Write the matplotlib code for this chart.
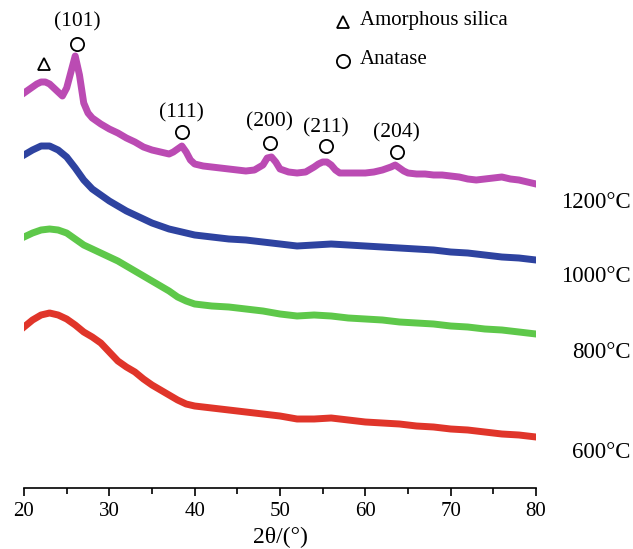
import matplotlib
matplotlib.use('Agg')
import matplotlib.pyplot as plt

plt.rcParams['font.family'] = ['Liberation Serif', 'DejaVu Serif']

# XRD 圖形的數據 (2θ, 相對強度, 已含偏移)
mag_x = [20, 20.5, 21, 21.5, 22, 22.5, 23, 23.5, 24, 24.5, 25, 25.5, 26, 26.5, 27, 27.5,
         28, 29, 30, 31, 32, 33, 34, 35, 36, 37, 37.5, 38, 38.5, 39, 39.5,
         40, 41, 42, 43, 44, 45, 46, 47, 48, 48.5, 49, 49.5, 50, 51, 52, 53, 54,
         54.5, 55, 55.5, 56, 56.5, 57, 58, 59, 60, 61, 62, 63, 63.5, 64, 64.5,
         65, 66, 67, 68, 69, 70, 71, 72, 73, 74, 75, 76, 77, 78, 79, 80]
mag_y = [395, 398, 401, 404, 406, 406, 404, 400, 396, 392, 400, 416, 432, 413, 385, 375,
         370, 364, 359, 355, 350, 346, 341, 338, 336, 334, 336, 339, 342, 336, 328,
         324, 322, 321, 320, 319, 318, 317, 318, 323, 330, 331, 326, 319, 316, 315, 316, 321,
         324, 326, 326, 323, 318, 315, 315, 315, 315, 316, 318, 321, 323, 320, 317,
         315, 314, 314, 313, 313, 312, 311, 309, 308, 309, 310, 311, 309, 308, 306, 304]

grid_x = [20, 21, 22, 23, 24, 25, 26, 27, 28, 29, 30, 31, 32, 33, 34, 35, 36, 37, 38, 39, 40,
          42, 44, 46, 48, 50, 52, 54, 56, 58, 60, 62, 64, 66, 68, 70, 72, 74, 76, 78, 80]
blue_y = [333, 338, 342, 342, 338, 331, 320, 308, 299, 293, 287, 282, 277, 273, 269, 265, 262, 259, 257, 255, 253,
          251, 249, 248, 246, 244, 242, 243, 244, 243, 242, 241, 240, 239, 238, 236, 235, 233, 231, 230, 228]
green_y = [251, 255, 258, 259, 258, 255, 249, 243, 239, 235, 231, 227, 222, 217, 212, 207, 202, 197, 191, 187, 184,
           182, 181, 179, 177, 174, 172, 173, 172, 170, 169, 168, 166, 165, 164, 162, 161, 159, 158, 156, 154]
red_y = [161, 168, 173, 175, 173, 169, 163, 156, 151, 145, 136, 127, 121, 116, 109, 103, 98, 93, 88, 84, 82,
         80, 78, 76, 74, 72, 69, 69, 70, 68, 66, 65, 64, 62, 61, 59, 58, 56, 54, 53, 51]

temps = ['1200°C', '1000°C', '800°C', '600°C']
temp_pos = [285, 211, 135, 36]

# 峰位標記
peak_names = ['(101)', '(111)', '(200)', '(211)', '(204)']
peak_x = [26.2, 38.5, 48.8, 55.4, 63.7]
peak_mark_y = [444, 356, 345, 342, 336]
peak_text_y = [466, 375, 366, 360, 355]
silica_x = 22.3
silica_y = 424

fig = plt.figure(figsize=(6.33, 5.49), dpi=100)
ax = fig.add_axes([24 / 633, 61 / 549, 512 / 633, 488 / 549])

ax.plot(mag_x, mag_y, color='#bb4bb3', lw=5)
ax.plot(grid_x, blue_y, color='#2e43a0', lw=5)
ax.plot(grid_x, green_y, color='#5ec84a', lw=5)
ax.plot(grid_x, red_y, color='#e0352a', lw=5)

ms_kw = dict(markerfacecolor='none', markeredgecolor='black', markeredgewidth=1.3, clip_on=False)
ax.plot([silica_x], [silica_y], marker='^', markersize=9, **ms_kw)
for name, px, my, ty in zip(peak_names, peak_x, peak_mark_y, peak_text_y):
    ax.plot([px], [my], marker='o', markersize=9.5, **ms_kw)
    ax.text(px, ty, name, ha='center', va='center', fontsize=15.5)

# 圖例
ax.plot([57.35], [466], marker='^', markersize=9, **ms_kw)
ax.text(59.4, 467, 'Amorphous silica', ha='left', va='center', fontsize=15)
ax.plot([57.35], [427], marker='o', markersize=9.5, **ms_kw)
ax.text(59.4, 428, 'Anatase', ha='left', va='center', fontsize=15)

for t, ty in zip(temps, temp_pos):
    ax.text(91.1, ty, t, ha='right', va='center', fontsize=16.5, clip_on=False)

ax.set_xlim(20, 80)
ax.set_ylim(0, 488)
ax.set_xticks([20, 30, 40, 50, 60, 70, 80])
ax.set_xticks([25, 35, 45, 55, 65, 75], minor=True)
ax.set_yticks([])
for s in ['top', 'left', 'right']:
    ax.spines[s].set_visible(False)
ax.spines['bottom'].set_linewidth(1.2)
ax.tick_params(axis='x', which='major', direction='out', length=6, width=1.2, labelsize=15, pad=4)
ax.tick_params(axis='x', which='minor', direction='out', length=4, width=1.2)
ax.set_xlabel('2θ/(°)', fontsize=17, labelpad=4)

fig.savefig('out.png', dpi=100)
